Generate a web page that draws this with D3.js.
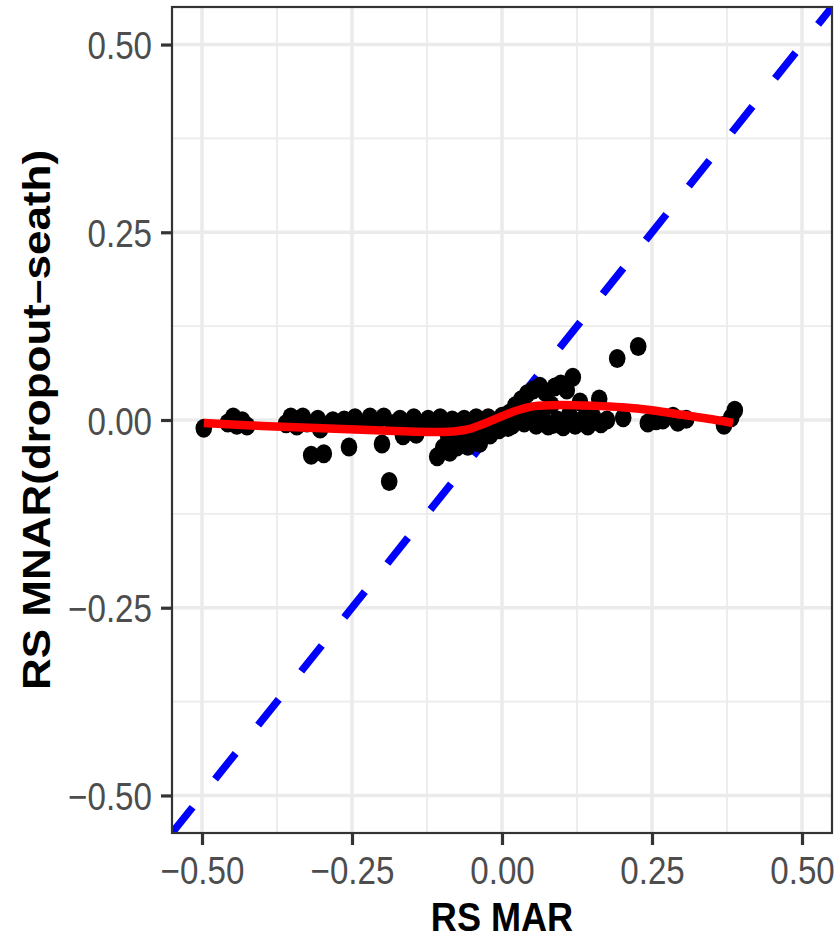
<!DOCTYPE html>
<html>
<head>
<meta charset="utf-8">
<script src="https://cdn.jsdelivr.net/npm/d3@7"></script>
<style>
  html, body { margin: 0; padding: 0; background: #ffffff; }
  svg { display: block; }
</style>
</head>
<body>
<div id="chart"></div>
<script>
// RS under MAR (x) against RS under MNAR dropout-seath (y)
const rsMAR = [
  -0.497, -0.457, -0.448, -0.442, -0.433, -0.425,
  -0.360, -0.352, -0.342, -0.332, -0.325, -0.318, -0.297, -0.307, -0.303,
  -0.282, -0.263, -0.255, -0.245, -0.233, -0.220, -0.210, -0.200, -0.197,
  -0.188, -0.182, -0.170, -0.165, -0.157, -0.147, -0.143, -0.133, -0.123,
  -0.115, -0.108, -0.103, -0.098, -0.093, -0.087, -0.083, -0.075, -0.073,
  -0.065, -0.063, -0.057, -0.053, -0.047, -0.043, -0.037, -0.033, -0.027,
  -0.023, -0.017, -0.010, -0.005, 0.000, 0.007, 0.012, 0.017, 0.022,
  0.027, 0.032, 0.037, 0.042, 0.047, 0.052, 0.057, 0.063, 0.067, 0.072,
  0.077, 0.082, 0.088, 0.092, 0.098, 0.102, 0.108, 0.112, 0.118, 0.122,
  0.130, 0.133, 0.143, 0.152, 0.162, 0.165, 0.175, 0.192, 0.202, 0.227,
  0.243, 0.257, 0.268, 0.285, 0.293, 0.307, 0.370, 0.388, 0.382,
  -0.090, -0.060, -0.040, -0.020, 0.010, 0.050, 0.085, 0.115, 0.140
];
const rsMNAR = [
  -0.011, -0.004, 0.004, -0.007, -0.001, -0.008,
  -0.005, 0.004, -0.008, 0.004, -0.004, -0.047, -0.045, 0.001, -0.012,
  -0.001, 0.000, -0.036, 0.003, -0.005, 0.004, -0.003, -0.032, 0.004,
  -0.082, -0.005, 0.001, -0.021, -0.007, 0.003, -0.019, -0.005, 0.001,
  -0.008, -0.049, 0.003, -0.037, -0.005, -0.043, 0.000, -0.036, -0.008,
  -0.027, 0.001, -0.035, -0.007, -0.023, 0.003, -0.031, -0.005, -0.016,
  0.003, -0.008, -0.001, -0.013, 0.005, -0.003, 0.009, -0.007, 0.019,
  0.003, 0.027, -0.004, 0.035, 0.011, 0.040, -0.007, 0.045, 0.003, 0.037,
  -0.008, 0.020, 0.044, 0.000, 0.048, -0.009, 0.040, 0.007, 0.057, -0.007,
  0.024, 0.000, -0.008, 0.004, 0.028, -0.005, 0.000, 0.082, 0.003, 0.098,
  -0.004, -0.001, 0.000, 0.005, -0.003, 0.001, -0.007, 0.013, 0.003,
  -0.020, -0.018, -0.012, -0.020, -0.010, 0.000, -0.006, -0.002, 0.003
];

// Local regression fit
const smoothX = [-0.497, -0.40, -0.30, -0.20, -0.10, -0.06, -0.03, 0.00, 0.03, 0.06, 0.10, 0.15, 0.20, 0.25, 0.30, 0.35, 0.385];
const smoothY = [-0.004, -0.008, -0.011, -0.014, -0.016, -0.013, -0.005, 0.005, 0.014, 0.019, 0.020, 0.019, 0.017, 0.013, 0.007, 0.001, -0.004];

const tickValues = [-0.50, -0.25, 0.00, 0.25, 0.50];
const minorValues = [-0.375, -0.125, 0.125, 0.375];
const xTitle = "RS MAR";
const yTitle = "RS MNAR(dropout\u2013seath)";

const W = 839, H = 940;
const panel = { left: 172, right: 832, top: 7, bottom: 833 };

const svg = d3.select("#chart").append("svg")
  .attr("width", W).attr("height", H);

const x = d3.scaleLinear().domain([-0.55, 0.55]).range([panel.left, panel.right]);
const y = d3.scaleLinear().domain([-0.55, 0.55]).range([panel.bottom, panel.top]);

const fmt = v => (v < 0 ? "\u2212" : "") + Math.abs(v).toFixed(2);

svg.append("defs").append("clipPath").attr("id", "panel-clip")
  .append("rect")
  .attr("x", panel.left).attr("y", panel.top)
  .attr("width", panel.right - panel.left).attr("height", panel.bottom - panel.top);

// grid
const grid = svg.append("g");
grid.selectAll(".vminor").data(minorValues).join("line")
  .attr("x1", d => x(d)).attr("x2", d => x(d))
  .attr("y1", panel.top).attr("y2", panel.bottom)
  .attr("stroke", "#EBEBEB").attr("stroke-width", 1.8);
grid.selectAll(".hminor").data(minorValues).join("line")
  .attr("y1", d => y(d)).attr("y2", d => y(d))
  .attr("x1", panel.left).attr("x2", panel.right)
  .attr("stroke", "#EBEBEB").attr("stroke-width", 1.8);
grid.selectAll(".vmajor").data(tickValues).join("line")
  .attr("x1", d => x(d)).attr("x2", d => x(d))
  .attr("y1", panel.top).attr("y2", panel.bottom)
  .attr("stroke", "#EBEBEB").attr("stroke-width", 3.6);
grid.selectAll(".hmajor").data(tickValues).join("line")
  .attr("y1", d => y(d)).attr("y2", d => y(d))
  .attr("x1", panel.left).attr("x2", panel.right)
  .attr("stroke", "#EBEBEB").attr("stroke-width", 3.6);

const plot = svg.append("g").attr("clip-path", "url(#panel-clip)");

// identity reference line
plot.append("line")
  .attr("x1", x(-0.55)).attr("y1", y(-0.55))
  .attr("x2", x(0.55)).attr("y2", y(0.55))
  .attr("stroke", "#0000FF").attr("stroke-width", 7.5)
  .attr("stroke-dasharray", "33,36");

// points
const pts = rsMAR.map((v, i) => ({ x: v, y: rsMNAR[i] }));
plot.selectAll("ellipse").data(pts).join("ellipse")
  .attr("cx", d => x(d.x)).attr("cy", d => y(d.y))
  .attr("rx", 8.3).attr("ry", 9.5)
  .attr("fill", "#000000");

// smooth
const smooth = smoothX.map((v, i) => [v, smoothY[i]]);
plot.append("path")
  .attr("d", d3.line().x(d => x(d[0])).y(d => y(d[1])).curve(d3.curveMonotoneX)(smooth))
  .attr("fill", "none").attr("stroke", "#FF0000").attr("stroke-width", 8.5);

// panel border
svg.append("rect")
  .attr("x", panel.left).attr("y", panel.top)
  .attr("width", panel.right - panel.left).attr("height", panel.bottom - panel.top)
  .attr("fill", "none").attr("stroke", "#333333").attr("stroke-width", 2.2);

// axes
const xAxis = svg.append("g").attr("transform", `translate(0,${panel.bottom})`)
  .call(d3.axisBottom(x).tickValues(tickValues).tickFormat(fmt).tickSize(12).tickSizeOuter(0));
const yAxis = svg.append("g").attr("transform", `translate(${panel.left},0)`)
  .call(d3.axisLeft(y).tickValues(tickValues).tickFormat(fmt).tickSize(11).tickSizeOuter(0));

[xAxis, yAxis].forEach(g => {
  g.select(".domain").remove();
  g.selectAll(".tick line").attr("stroke", "#333333").attr("stroke-width", 3.2);
  g.selectAll(".tick text")
    .attr("fill", "#4D4D4D")
    .style("font-family", "'Liberation Sans', Arial, sans-serif")
    .style("font-size", "39px");
});
xAxis.selectAll(".tick text")
  .attr("y", 0).attr("dy", 0)
  .attr("transform", "translate(0,51) scale(0.85,1)");
yAxis.selectAll(".tick text")
  .attr("x", 0).attr("dy", "0.36em")
  .attr("transform", "translate(-20,0) scale(0.85,1)");

// titles
svg.append("text")
  .attr("transform", `translate(${(panel.left + panel.right) / 2},931) scale(0.88,1)`)
  .attr("text-anchor", "middle")
  .style("font-family", "'Liberation Sans', Arial, sans-serif")
  .style("font-weight", "bold").style("font-size", "41px")
  .attr("fill", "#000000")
  .text(xTitle);

svg.append("text")
  .attr("transform", `translate(50,${(panel.top + panel.bottom) / 2}) rotate(-90) scale(1,0.88)`)
  .attr("text-anchor", "middle")
  .style("font-family", "'Liberation Sans', Arial, sans-serif")
  .style("font-weight", "bold").style("font-size", "44px")
  .attr("fill", "#000000")
  .text(yTitle);
</script>
</body>
</html>
